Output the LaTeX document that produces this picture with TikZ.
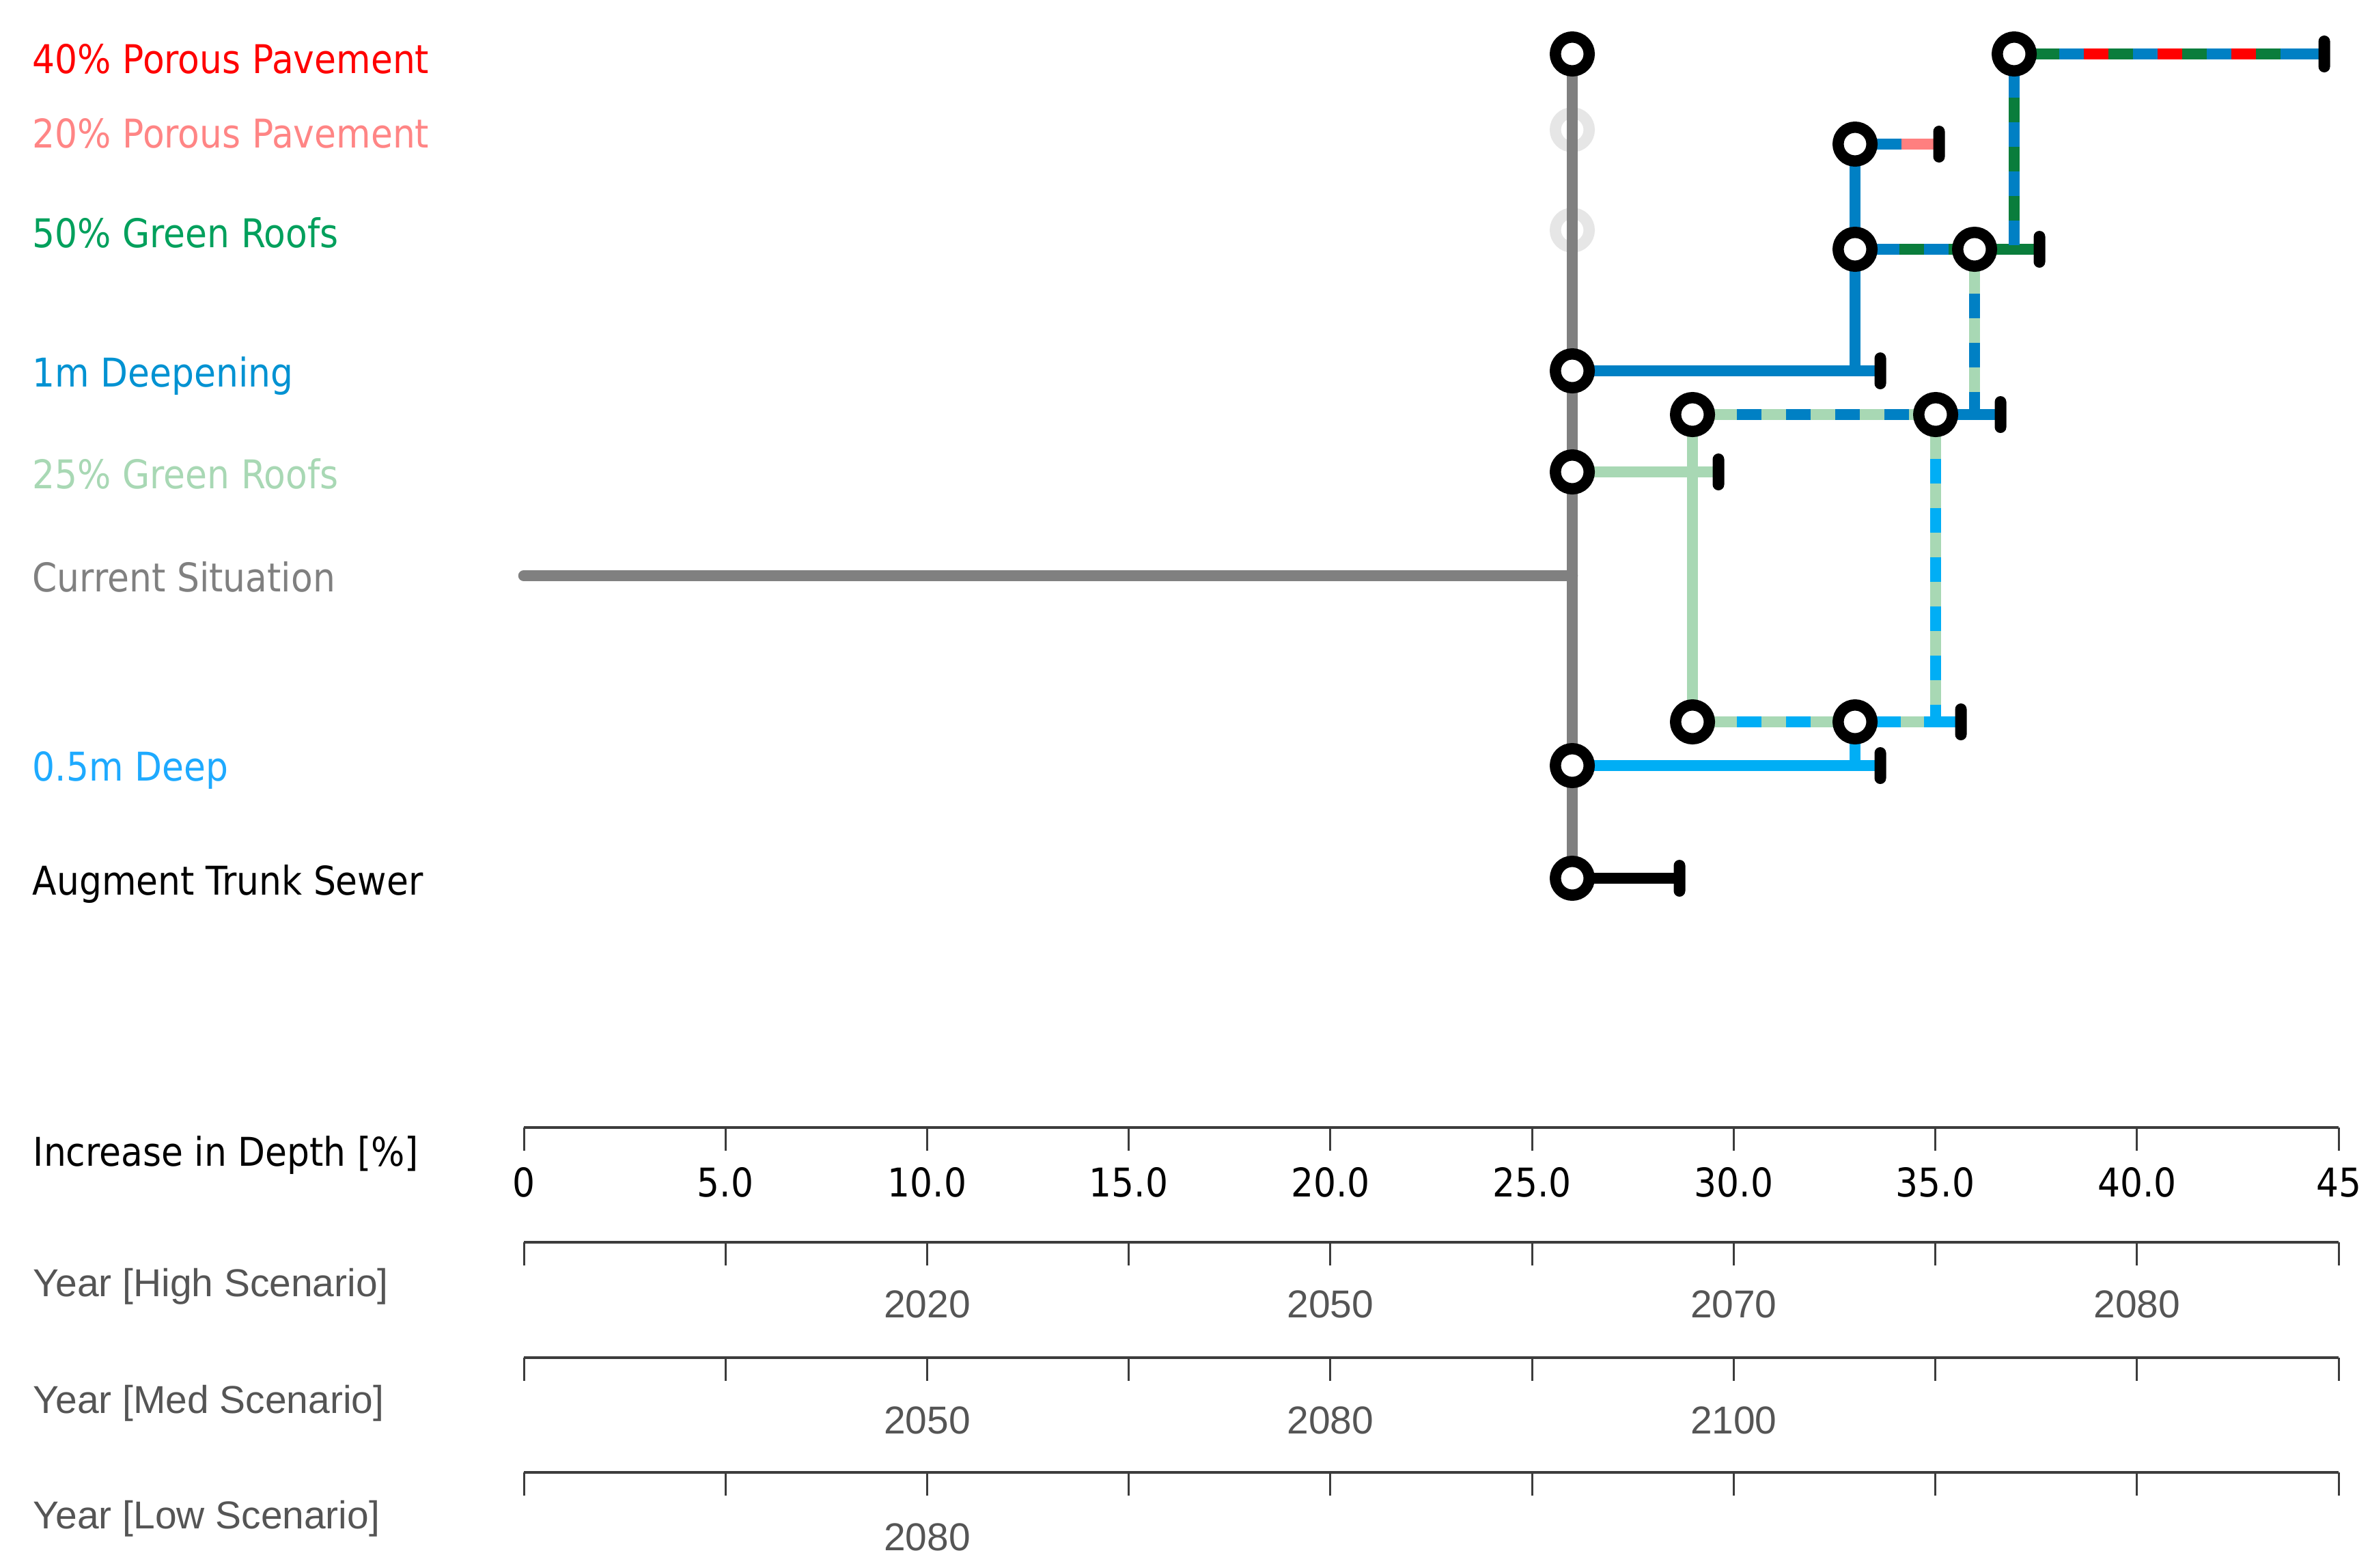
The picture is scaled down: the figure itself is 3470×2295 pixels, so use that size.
\documentclass[tikz,border=0pt]{standalone}
\usepackage{fontspec}
\setmainfont{DejaVu Sans}
\newfontfamily\tah[FakeStretch=0.895]{DejaVu Sans}
\newfontfamily\ari{Liberation Sans}
\usetikzlibrary{calc}
\pgfdeclarelayer{paperlayer}
\pgfdeclarelayer{ghostlayer}
\pgfdeclarelayer{linelayer}
\pgfsetlayers{paperlayer,ghostlayer,linelayer,main}

\definecolor{cRed}{HTML}{FF0000}
\definecolor{cSalmon}{HTML}{FF7F7F}
\definecolor{cSalmonT}{HTML}{FF8585}
\definecolor{cDkGreen}{HTML}{0A7D3C}
\definecolor{cDkGreenT}{HTML}{00A05C}
\definecolor{cBlue}{HTML}{0080C4}
\definecolor{cBlueT}{HTML}{0092D2}
\definecolor{cLtGreen}{HTML}{A8D8B4}
\definecolor{cGray}{HTML}{808080}
\definecolor{cLtBlue}{HTML}{00AEF5}
\definecolor{cLtBlueT}{HTML}{1EAAFF}
\definecolor{cGhost}{HTML}{E6E6E6}
\definecolor{cYear}{HTML}{555555}
\definecolor{cAxis}{HTML}{3C3C3C}

\tikzset{
  lnk/.style={line width=1.65mm},
  ring/.style={circle, draw=black, fill=white, line width=1.65mm, minimum size=4.95mm, inner sep=0pt},
  ghostring/.style={ring, draw=cGhost},
  endbar/.style={rectangle, fill=black, minimum width=1.7mm, minimum height=5.4mm, rounded corners=0.85mm, inner sep=0pt},
  dashA/.style={dash pattern=on 3.6mm off 3.6mm, dash phase=0.7mm},
  lbl/.style={anchor=base west, inner sep=0pt, font=\tah\fontsize{16.5}{19}\selectfont},
  yrlbl/.style={anchor=base west, inner sep=0pt, text=cYear, font=\ari\fontsize{16.2}{18}\selectfont},
  ticknum/.style={anchor=base, inner sep=0pt, font=\tah\fontsize{16.5}{19}\selectfont},
  yearnum/.style={anchor=base, inner sep=0pt, text=cYear, font=\ari\fontsize{16.2}{18}\selectfont},
  axisln/.style={draw=cAxis, line width=0.45mm},
  tickln/.style={draw=cAxis, line width=0.3mm}
}

\begin{document}
\begin{tikzpicture}[x=0.1mm, y=-0.1mm]
\useasboundingbox (0,0) rectangle (3470,2295);
\begin{pgfonlayer}{paperlayer}
\fill[white] (0,0) rectangle (3470,2295);
\end{pgfonlayer}

% ---------- legend labels ----------
\node[lbl, text=cRed]      (l40) at (47,107)  {40\% Porous Pavement};
\node[lbl, text=cSalmonT]  (l20) at (47,216)  {20\% Porous Pavement};
\node[lbl, text=cDkGreenT] (l50) at (47,362)  {50\% Green Roofs};
\node[lbl, text=cBlueT]    (l1m) at (47,566)  {1m Deepening};
\node[lbl, text=cLtGreen]  (l25) at (47,715)  {25\% Green Roofs};
\node[lbl, text=cGray]     (lcs) at (47,866)  {Current Situation};
\node[lbl, text=cLtBlueT]  (l05) at (47,1143) {0.5m Deep};
\node[lbl, text=black]     (lat) at (47,1310) {Augment Trunk Sewer};

% ---------- nodes ----------
\node[ring] (tA) at (2302,79) {};
\begin{pgfonlayer}{ghostlayer}
\node[ghostring] (gh1) at (2302,190) {};
\node[ghostring] (gh2) at (2302,337) {};
\end{pgfonlayer}
\node[ring] (dA) at (2302,543) {};
\node[ring] (gA) at (2302,691) {};
\node[ring] (bA) at (2302,1121) {};
\node[ring] (sA) at (2302,1286) {};
\node[ring] (pA) at (2716,211) {};
\node[ring] (pB) at (2716,365) {};
\node[ring] (pC) at (2891,365) {};
\node[ring] (qA) at (2949,79) {};
\node[ring] (uA) at (2478,607) {};
\node[ring] (uB) at (2834,607) {};
\node[ring] (lA) at (2478,1057) {};
\node[ring] (lB) at (2716,1057) {};

\coordinate (c0) at (767,843);
\coordinate (cJ) at (2302,843);
\coordinate (sP) at (2784,211);
\coordinate (eQd) at (3374,79);

% ---------- end bars ----------
\node[endbar] (eQ) at (3403,79) {};
\node[endbar] (eP) at (2839,211) {};
\node[endbar] (eC) at (2986,365) {};
\node[endbar] (eD) at (2753,543) {};
\node[endbar] (eU) at (2929,607) {};
\node[endbar] (eG) at (2516,691) {};
\node[endbar] (eL) at (2871,1057) {};
\node[endbar] (eB) at (2753,1121) {};
\node[endbar] (eS) at (2459,1286) {};

% ---------- connectors ----------
\begin{pgfonlayer}{linelayer}
% current situation trunk
\draw[lnk, cGray] (tA.center) -- (sA.center);
\draw[lnk, cGray, line cap=round] (c0) -- (cJ);
% 1m deepening
\draw[lnk, cBlue] (dA.center) -- (eD.center);
\draw[lnk, cBlue] (pA.center) -- (pA |- dA);
% 20% porous pavement
\draw[lnk, cBlue] (pA.center) -- (eP.center);
\draw[lnk, cSalmon] (sP) -- (eP.center);
% 50% green roofs row
\draw[lnk, cBlue] (pB.center) -- (pC.center);
\draw[lnk, cDkGreen, dashA] (pB.center) -- (pC.center);
\draw[lnk, cDkGreen] (pC.center) -- (eC.center);
% 40% porous pavement
\draw[lnk, cBlue] (qA.center) -- (qA |- pC);
\draw[lnk, cDkGreen, dash pattern=on 3.6mm off 3.6mm, dash phase=0.8mm] (qA.center) -- (qA |- pC);
\draw[lnk, cBlue] (qA.center) -- (eQ.center);
\draw[lnk, cDkGreen, dash pattern=on 3.6mm off 7.2mm, dash phase=7.8mm] (qA.center) -- (eQd);
\draw[lnk, cRed, dash pattern=on 3.6mm off 7.2mm, dash phase=0.6mm] (qA.center) -- (eQd);
% upper combined row
\draw[lnk, cLtGreen] (uA.center) -- (uB.center);
\draw[lnk, cBlue, dashA] (uA.center) -- (uB.center);
\draw[lnk, cBlue] (uB.center) -- (eU.center);
\draw[lnk, cLtGreen] (pC.center) -- (pC |- uB);
\draw[lnk, cBlue, dashA] (pC.center) -- (pC |- uB);
% 25% green roofs
\draw[lnk, cLtGreen] (gA.center) -- (eG.center);
\draw[lnk, cLtGreen] (uA.center) -- (lA.center);
% right vertical
\draw[lnk, cLtGreen] (uB.center) -- (uB |- lA);
\draw[lnk, cLtBlue, dashA] (uB.center) -- (uB |- lA);
% lower combined row
\draw[lnk, cLtGreen] (lA.center) -- (lB.center);
\draw[lnk, cLtBlue, dashA] (lA.center) -- (lB.center);
\draw[lnk, cLtBlue] (lB.center) -- (eL.center);
\draw[lnk, cLtGreen, dash pattern=on 3.4mm off 30mm, dash phase=26.7mm] (lB.center) -- (eL.center);
% 0.5m deep
\draw[lnk, cLtBlue] (lB.center) -- (lB |- bA);
\draw[lnk, cLtBlue] (bA.center) -- (eB.center);
% augment trunk sewer
\draw[lnk, black] (sA.center) -- (eS.center);
\end{pgfonlayer}

% ---------- axes ----------
\node[lbl, text=black] (ax1) at (48,1707) {Increase in Depth [\%]};
\node[yrlbl] (ax2) at (48,1898) {Year [High Scenario]};
\node[yrlbl] (ax3) at (48,2069) {Year [Med Scenario]};
\node[yrlbl] (ax4) at (48,2238) {Year [Low Scenario]};

\foreach \ly in {1651,1819,1988,2156}{
  \draw[axisln] (767,\ly) -- (3424,\ly);
  \foreach \i in {0,...,9}{
    \draw[tickln] ({767+\i*295.22},\ly) -- ++(0,34);
  }
}
\foreach \i/\t in {0/0,1/5.0,2/10.0,3/15.0,4/20.0,5/25.0,6/30.0,7/35.0,8/40.0,9/45}{
  \node[ticknum] at ({767+\i*295.22},1752) {\t};
}
\foreach \i/\t in {2/2020,4/2050,6/2070,8/2080}{
  \node[yearnum] at ({767+\i*295.22},1929) {\t};
}
\foreach \i/\t in {2/2050,4/2080,6/2100}{
  \node[yearnum] at ({767+\i*295.22},2099) {\t};
}
\foreach \i/\t in {2/2080}{
  \node[yearnum] at ({767+\i*295.22},2270) {\t};
}
\end{tikzpicture}
\end{document}
